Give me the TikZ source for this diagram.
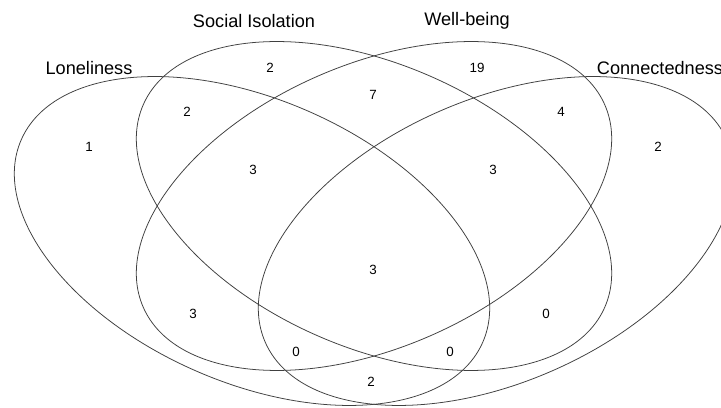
\documentclass[tikz,border=0pt]{standalone}
\usepackage{fontspec}
\setmainfont{Liberation Sans}
\begin{document}
\begin{tikzpicture}[x=0.025cm, y=0.025cm]
  \tikzset{set/.style={draw=black!75, line width=0.55pt},
           setname/.style={font=\fontsize{12.9}{15}\selectfont},
           count/.style={font=\fontsize{9.5}{11}\selectfont}}
  \useasboundingbox (0,0) rectangle (721,407);

  % the four sets, all of one size
  \draw[set, rotate around={-23.7:(252,166)}] (252,166) ellipse [x radius=252, y radius=141.5];
  \draw[set, rotate around={-23.7:(374,201)}] (374,201) ellipse [x radius=252, y radius=141.5];
  \draw[set, rotate around={23.7:(374,201)}] (374,201) ellipse [x radius=252, y radius=141.5];
  \draw[set, rotate around={23.7:(496,166)}] (496,166) ellipse [x radius=252, y radius=141.5];

  % names of the sets
  \node[setname] (lone) at (89,339) {Loneliness};
  \node[setname] (isol) at (254,386) {Social Isolation};
  \node[setname] (well) at (467,386) {Well-being};
  \node[setname, anchor=west] (conn) at (592,339) {Connectedness};

  % counts in the regions
  \node[count] (l) at (89,260) {1};
  \node[count] (s) at (270,339) {2};
  \node[count] (w) at (477,339) {19};
  \node[count] (c) at (658,260) {2};
  \node[count] (ls) at (187,295) {2};
  \node[count] (sw) at (373,312) {7};
  \node[count] (wc) at (561,295) {4};
  \node[count] (lsw) at (253,237) {3};
  \node[count] (swc) at (493,237) {3};
  \node[count] (all) at (373,137) {3};
  \node[count] (lw) at (193,93) {3};
  \node[count] (sc) at (546,93) {0};
  \node[count] (lwc) at (296,55) {0};
  \node[count] (lsc) at (450,55) {0};
  \node[count] (lc) at (371,25) {2};
\end{tikzpicture}
\end{document}
